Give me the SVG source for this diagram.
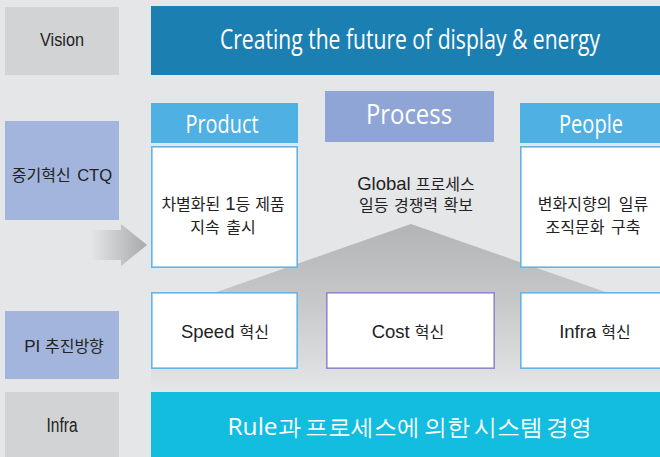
<svg xmlns="http://www.w3.org/2000/svg" width="660" height="457" viewBox="0 0 660 457">
<defs>
<linearGradient id="pyr" x1="0" y1="224" x2="0" y2="392" gradientUnits="userSpaceOnUse">
<stop offset="0" stop-color="#b3b4b6"/>
<stop offset="0.45" stop-color="#c6c7c9"/>
<stop offset="1" stop-color="#e5e6e8"/>
</linearGradient>
<linearGradient id="arr" x1="92" y1="0" x2="147" y2="0" gradientUnits="userSpaceOnUse">
<stop offset="0" stop-color="#e3e4e6"/>
<stop offset="1" stop-color="#a8a9ab"/>
</linearGradient>
<style>
.lab{fill:#d2d3d5}
.labb{fill:#a3b5dd}
.hdr{fill:#4fb0e4}
.wbox{fill:#ffffff;stroke:#62b5e6;stroke-width:1.6}
.pbox{fill:#ffffff;stroke:#9487cc;stroke-width:1.6}
.t{font-family:"Liberation Sans","Noto Sans CJK KR",sans-serif;fill:#222222;text-anchor:middle}
.tk{font-family:"Liberation Sans","Noto Sans CJK KR",sans-serif;fill:#222222;text-anchor:middle;font-size:16px}
.l{font-size:18.5px}
.h{font-family:"Open Sans","Liberation Sans",sans-serif;fill:#ffffff;text-anchor:middle}
</style>
</defs>
<rect x="0" y="0" width="660" height="457" fill="#e5e6e8"/>
<g id="pyramid">
<polygon points="411,224 660,311 660,392 151,392 151,315" fill="url(#pyr)"/>
</g>
<g id="connectors">
<polygon points="92,230 121,230 121,224 147,245 121,266 121,260 92,260" fill="url(#arr)"/>
</g>
<g id="label-vision">
<rect class="lab" x="5" y="7" width="114" height="68"/>
<text class="t" x="62" y="46" font-size="19" textLength="44" lengthAdjust="spacingAndGlyphs">Vision</text>
</g>
<g id="label-ctq">
<rect class="labb" x="5" y="121" width="114" height="99"/>
<text class="tk" x="62" y="181" font-size="15" word-spacing="2"><tspan>중기혁신 </tspan><tspan font-size="16.6">CTQ</tspan></text>
</g>
<g id="label-pi">
<rect class="labb" x="5" y="311" width="114" height="68"/>
<text class="tk" x="64" y="352" font-size="16.5"><tspan font-size="17">PI </tspan><tspan>추진방향</tspan></text>
</g>
<g id="label-infra">
<rect class="lab" x="5" y="392" width="114" height="65"/>
<text class="t" x="62" y="432" font-size="20" textLength="31" lengthAdjust="spacingAndGlyphs">Infra</text>
</g>
<g id="vision-banner">
<rect x="151" y="6" width="509" height="69" fill="#1b7fb2"/>
<text class="h" transform="translate(410,49) scale(0.68,1)" x="0" y="0" font-size="28" textLength="559" lengthAdjust="spacingAndGlyphs">Creating the future of display &amp; energy</text>
</g>
<g id="product">
<rect class="hdr" x="151" y="103" width="147" height="40"/>
<text class="h" x="222" y="133" font-size="25" textLength="73" lengthAdjust="spacingAndGlyphs">Product</text>
<rect class="wbox" x="151.8" y="146.8" width="145.4" height="120.4"/>
<text class="tk" x="223" y="210" word-spacing="0.5">차별화된 <tspan class="l">1</tspan>등 제품</text>
<text class="tk" x="223" y="233" word-spacing="2">지속 출시</text>
</g>
<g id="process">
<rect x="325" y="91" width="169" height="51" fill="#8fa5d5"/>
<text class="h" x="409" y="124" font-size="26.5" textLength="86" lengthAdjust="spacingAndGlyphs">Process</text>
<text class="tk" x="416" y="190" font-size="15.5"><tspan class="l">Global </tspan>프로세스</text>
<text class="tk" x="416" y="211" word-spacing="1">일등 경쟁력 확보</text>
</g>
<g id="people">
<rect class="hdr" x="520" y="103" width="140" height="40"/>
<text class="h" x="591" y="133" font-size="26" textLength="64" lengthAdjust="spacingAndGlyphs">People</text>
<rect class="wbox" x="520.8" y="146.8" width="141" height="120.4"/>
<text class="tk" x="593" y="210" word-spacing="3">변화지향의 일류</text>
<text class="tk" x="593" y="233" word-spacing="2">조직문화 구축</text>
</g>
<g id="speed">
<rect class="wbox" x="151.8" y="292.8" width="145.4" height="75.4"/>
<text class="tk" x="225" y="338"><tspan class="l">Speed </tspan>혁신</text>
</g>
<g id="cost">
<rect class="pbox" x="326.8" y="292.8" width="167.4" height="75.4"/>
<text class="tk" x="408" y="338"><tspan class="l">Cost </tspan>혁신</text>
</g>
<g id="infra-box">
<rect class="wbox" x="520.8" y="292.8" width="141" height="75.4"/>
<text class="tk" x="595" y="338"><tspan class="l">Infra </tspan>혁신</text>
</g>
<g id="infra-banner">
<rect x="151" y="392" width="509" height="65" fill="#12bde0"/>
<text class="h" x="410" y="435" font-size="23" word-spacing="-2" font-family="&quot;Liberation Sans&quot;,&quot;Noto Sans CJK KR&quot;,sans-serif"><tspan font-size="24.5">Rule</tspan>과 프로세스에 의한 시스템 경영</text>
</g>
</svg>
